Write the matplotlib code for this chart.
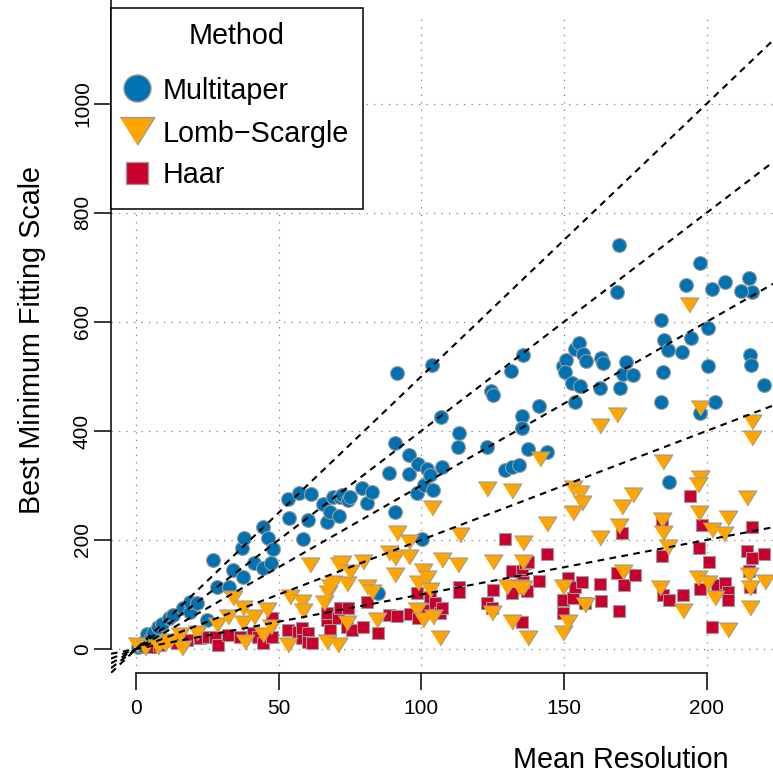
import matplotlib
matplotlib.use('Agg')
import matplotlib.pyplot as plt
from matplotlib.lines import Line2D
from matplotlib.patches import Rectangle

plt.rcParams['font.family'] = ['Liberation Sans', 'DejaVu Sans']

# ---------------- data ----------------
methods = ['Multitaper', 'Lomb\u2212Scargle', 'Haar']
colors = ['#0072B2', '#FFA500', '#C9002E']

mt_x = [0.8, 1.5, 2.5, 3, 3.9, 5, 6, 7.7, 9, 11.6, 13, 16.5, 18.9, 18.9, 21.4, 24.9, 27, 28.4, 32.6, 34,
        37.5, 37.2, 37.9, 41.4, 44.5, 44.5, 46.3, 47.3, 48, 53.3, 53.6, 57.1, 58.5, 60.3, 61.3, 65.5, 67, 68,
        69, 71.5, 71.2, 72.2, 74.3, 75, 79.2, 81, 82.7, 84.8, 88.7, 90.8, 90.8, 91.5, 95.7, 95.7, 98.8, 98.5,
        100.2, 101, 102, 103, 103.7, 104.1, 106.9, 107.3, 112.9, 113.2, 123, 124.4, 125.1, 129.3, 131.4, 131.8,
        134.2, 135.6, 135.3, 135.3, 137.4, 141.3, 144.1, 149.7, 150.7, 154, 155.3, 156.7, 150.4, 152.8, 155.6,
        157.7, 163, 163.7, 162.6, 153.9, 169.3, 168.6, 170.7, 171.7, 169.6, 174.2, 184, 185, 184.7, 186.5, 184,
        186.8, 191.4, 194.5, 197.7, 192.8, 202, 200.5, 200.5, 197.7, 203, 206.5, 214.9, 216, 212, 215.2, 215.6,
        220]
mt_y = [4, 10, 6, 15, 28, 18, 30, 40, 45, 57, 62, 75, 68, 86, 84, 53, 163, 114, 114, 145,
        132, 185, 204, 158, 149, 224, 204, 158, 183, 275, 240, 286, 202, 237, 284, 266, 233, 251,
        279, 279, 244, 283, 273, 279, 295, 268, 288, 103, 323, 378, 251, 506, 356, 321, 339, 286,
        202, 301, 330, 319, 521, 292, 426, 334, 371, 396, 371, 473, 466, 328, 510, 334,
        338, 539, 428, 406, 367, 446, 361, 519, 530, 550, 561, 541, 508, 488, 483,
        528, 534, 525, 479, 453, 741, 655, 505, 527, 479, 503, 604, 567, 508, 549, 453,
        306, 545, 571, 708, 668, 660, 589, 519, 433, 453, 673, 681, 655, 657, 540, 521,
        484]

ls_x = [0.4, 3.2, 7.7, 10, 12, 15.4, 16.1, 21.4, 28.4, 32.2, 34, 37.5, 37.5, 38.2, 41.4, 44.5, 45.9, 47.3,
        53.3, 54, 58.2, 58.5, 61, 66, 67, 67.3, 68, 69, 70.8, 71.2, 72.2, 74, 74, 75, 79.6, 81, 82.7, 84.5,
        88.7, 90.8, 90.8, 91.5, 95.7, 95.7, 98.5, 98.8, 100.6, 100.6, 102, 103, 103.7, 104.1, 106.6, 107.3,
        112.9, 113.6, 123, 124.8, 125.1, 130, 131.8, 131.8, 134.2, 135.6, 135.6, 135.6, 137.4, 141.6, 144,
        149.7, 149.7, 151.4, 153.2, 155.6, 156.3, 153.2, 157.4, 162.6, 162.6, 168.6, 169.3, 170.3, 170.7,
        174.2, 183.7, 184.7, 184.4, 184.7, 186.5, 191.7, 193.8, 197.7, 197.7, 197, 197.3, 197, 200.5, 201.9,
        203, 206.1, 207.5, 207.5, 214.2, 214.9, 215.2, 215.2, 215.9, 215.9, 220.5]
ls_y = [7, 2, 4, 10, 15, 26, 2, 29, 44, 59, 94, 75, 48, 13, 59, 26, 72, 40,
        7, 95, 86, 70, 154, 84, 13, 103, 114, 121, 7, 154, 158, 119, 48, 141, 160, 114, 105, 53,
        176, 167, 136, 213, 196, 169, 72, 121, 143, 53, 130, 108, 259, 59, 20, 163,
        154, 209, 294, 66, 160, 114, 290, 50, 114, 194, 160, 112, 20, 349, 230,
        114, 29, 50, 295, 286, 268, 250, 81, 409, 204, 429, 226, 261, 141,
        283, 112, 343, 237, 213, 187, 70, 631, 442, 314, 301, 250, 130, 121, 218,
        94, 211, 240, 35, 277, 136, 112, 75, 417, 387, 123]

ha_x = [4.9, 8, 10.9, 14.4, 17.9, 22.4, 25.2, 27.7, 28.7, 32.2, 36.5, 41, 42.8, 44.5, 47.7, 47.7, 53.3,
        56.8, 58.2, 58.2, 60.3, 60.3, 61.7, 67, 67, 68, 70.8, 71.5, 74.3, 74, 75.7, 79.6, 81, 84.8, 88.7,
        91.5, 96, 98.5, 98.8, 101.3, 103, 104.8, 106.6, 107.3, 113.2, 113.2, 123, 124.8, 125.1, 129.3,
        131.8, 131.8, 135.3, 135.3, 135.3, 136.3, 137.4, 137, 135.6, 141.3, 144, 149.7, 149.7, 151.4, 153.2,
        153.9, 156.3, 157.4, 162.6, 163, 168.6, 169.3, 170.3, 171, 174.9, 184.4, 184.4, 184.7, 186.8, 191.7,
        194.2, 197.3, 197.7, 198.4, 200.8, 201.9, 203.6, 206.5, 207.5, 207.5, 214.2, 214.9, 215.2, 215.9,
        215.9, 220.1]
ha_y = [4, 8, 17, 11, 17, 20, 22, 22, 7, 26, 22, 29, 22, 11, 57, 22, 35,
        31, 20, 39, 29, 13, 11, 53, 66, 35, 57, 75, 75, 40, 35, 40, 86, 29, 62,
        61, 64, 103, 57, 72, 95, 84, 66, 75, 114, 105, 84, 75, 108, 202,
        143, 103, 143, 127, 50, 158, 160, 106, 123, 125, 174, 90, 66, 130, 94,
        114, 123, 84, 119, 88, 139, 70, 213, 117, 136, 233, 171, 99, 90, 99,
        281, 185, 110, 228, 160, 40, 117, 121, 105, 90, 180, 143, 114, 224,
        167, 174]

x_ticks = [0, 50, 100, 150, 200]
y_ticks = [0, 200, 400, 600, 800, 1000]
ref_slopes = [1, 2, 3, 4, 5]

# ---------------- layout helpers (pixels) ----------------
W, H, DPI = 773, 777, 100


def fx(px):
    return px / W


def fy(py):
    return 1 - py / H


fig = plt.figure(figsize=(W / DPI, H / DPI), dpi=DPI)
ax = fig.add_axes([fx(111), fy(673), fx(773) - fx(111), fy(15) - fy(673)])
ax.set_xlim(-8.76, 223.3)
ax.set_ylim(-44, 1163)

tri = [(-1, 0.8), (1, 0.8), (0, -0.8)]
edge = '#9a9a9a'

ax.plot(mt_x, mt_y, linestyle='none', marker='o', ms=10.0, mfc=colors[0], mec=edge, mew=0.8, zorder=3)
ax.plot(ha_x, ha_y, linestyle='none', marker='s', ms=8.3, mfc=colors[2], mec=edge, mew=0.8, zorder=3)
ax.plot(ls_x, ls_y, linestyle='none', marker=tri, ms=13.5, mfc=colors[1], mec=edge, mew=0.8, zorder=3)

for k in ref_slopes:
    ax.axline((0, 0), slope=k, color='black', linestyle=(0, (3.2, 2.6)), linewidth=1.5, zorder=4)

ax.set_xticks(x_ticks)
ax.set_yticks(y_ticks)
ax.grid(True, color='#808080', linestyle=(0, (1, 5)), linewidth=0.9)
ax.set_axisbelow(True)

for s in ['top', 'right']:
    ax.spines[s].set_visible(False)
ax.spines['left'].set_bounds(0, 1200)
ax.spines['bottom'].set_bounds(0, 200)
for s in ['left', 'bottom']:
    ax.spines[s].set_linewidth(1.1)
    ax.spines[s].set_clip_on(False)

ax.tick_params(direction='out', length=12.2, width=1.1, labelsize=15, colors='black')
ax.tick_params(axis='x', pad=6.5)
ax.tick_params(axis='y', pad=1.5, labelrotation=90)
for lab in ax.get_yticklabels():
    lab.set_va('center')

fig.text(fx(621), fy(760), 'Mean Resolution', fontsize=20.7, ha='center', va='center')
fig.text(fx(32), fy(340), 'Best Minimum Fitting Scale', fontsize=20.7, ha='center', va='center',
         rotation=90)

# ---------------- legend ----------------
fig.add_artist(Rectangle((fx(111), fy(209)), fx(363) - fx(111), fy(8) - fy(209),
                         transform=fig.transFigure, facecolor='white', edgecolor='black',
                         linewidth=1.1, zorder=10))
fig.text(fx(237), fy(44), 'Method', fontsize=20.7, ha='center', va='baseline', zorder=11)
leg_markers = [dict(marker='o', ms=19.5), dict(marker=tri, ms=25), dict(marker='s', ms=16.5)]
row_mark = [88, 131, 173]
row_base = [99, 142, 183]
for i in range(3):
    fig.add_artist(Line2D([fx(137)], [fy(row_mark[i])], transform=fig.transFigure, linestyle='none',
                          mfc=colors[i], mec=edge, mew=1.0, zorder=11, **leg_markers[i]))
    fig.text(fx(163), fy(row_base[i]), methods[i], fontsize=20.7, ha='left', va='baseline', zorder=11)

fig.savefig('out.png', dpi=DPI)
